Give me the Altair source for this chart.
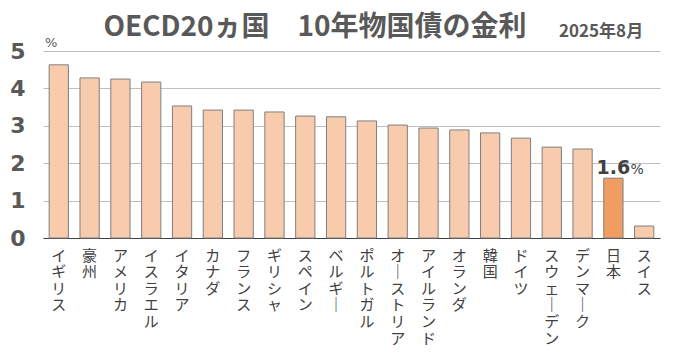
import altair as alt
import pandas as pd

countries = ["イギリス", "豪州", "アメリカ", "イスラエル", "イタリア", "カナダ", "フランス",
             "ギリシャ", "スペイン", "ベルギー", "ポルトガル", "オーストリア", "アイルランド",
             "オランダ", "韓国", "ドイツ", "スウェーデン", "デンマーク", "日本", "スイス"]
rates = [4.63, 4.28, 4.25, 4.17, 3.53, 3.42, 3.42, 3.37, 3.26, 3.24, 3.13, 3.02, 2.94,
         2.89, 2.81, 2.67, 2.43, 2.38, 1.60, 0.32]
highlight = "日本"
highlight_label = "1.6"
title_text = "OECD20ヵ国　10年物国債の金利"
date_text = "2025年8月"
y_ticks = [0, 1, 2, 3, 4, 5]

df = pd.DataFrame({"country": countries, "rate": rates})
df["hl"] = df["country"] == highlight

CJK = "Noto Sans CJK JP"
NUM = "DejaVu Sans"

x_scale = alt.Scale(domain=countries, paddingInner=0.375, paddingOuter=0.2)
x_enc = alt.X("country:N", sort=countries, scale=x_scale,
              axis=alt.Axis(title=None, labelAngle=0, ticks=False, domain=True,
                            domainColor="#404040", domainWidth=1.2,
                            labelFont=CJK, labelFontSize=15, labelColor="#404040",
                            labelPadding=10, labelBaseline="top", labelLineHeight=16.6,
                            labelOverlap=False,
                            labelExpr="split(join(split(datum.label, 'ー'), '｜'), '')"))
y_enc = alt.Y("rate:Q", scale=alt.Scale(domain=[0, 5], nice=False),
              axis=alt.Axis(title=None, values=y_ticks, tickCount=6, ticks=False, domain=False,
                            grid=True, gridColor="#bfbfbf", gridWidth=1, labelOverlap=False,
                            labelFont=NUM, labelFontSize=22, labelFontWeight="bold",
                            labelColor="#595959", labelPadding=18, format="d"))

bars = alt.Chart(df).mark_bar(stroke="#7f7f7f", strokeWidth=1).encode(
    x=x_enc, y=y_enc,
    color=alt.Color("hl:N", scale=alt.Scale(domain=[False, True], range=["#f8cbad", "#f19c62"]),
                    legend=None),
)

base_hl = alt.Chart(df).transform_filter(alt.datum.country == highlight)
lab_num = base_hl.mark_text(font=NUM, fontSize=19, fontWeight="bold", color="#404040",
                            baseline="alphabetic", align="center", dy=-4).encode(
    x=x_enc, y=y_enc, text=alt.value(highlight_label))
lab_pct = base_hl.mark_text(font=NUM, fontSize=14, color="#404040",
                            baseline="alphabetic", align="left", dx=17, dy=-4).encode(
    x=x_enc, y=y_enc, text=alt.value("%"))

single = alt.Data(values=[{"a": 1}])
unit = alt.Chart(single).mark_text(font=NUM, fontSize=13, color="#595959",
                                   align="left", baseline="alphabetic").encode(
    x=alt.value(2), y=alt.value(-4), text=alt.value("%"))
title = alt.Chart(single).mark_text(font=CJK, fontSize=28, fontWeight="bold", color="#595959",
                                    align="center", baseline="alphabetic").encode(
    x=alt.value(272), y=alt.value(-15), text=alt.value(title_text))
date = alt.Chart(single).mark_text(font=CJK, fontSize=17, fontWeight="bold", color="#595959",
                                   align="left", baseline="alphabetic").encode(
    x=alt.value(516), y=alt.value(-14), text=alt.value(date_text))

chart = alt.layer(bars, lab_num, lab_pct, unit, title, date).properties(
    width=617, height=187,
    autosize=alt.AutoSizeParams(type="none"),
    padding={"left": 35, "top": 43, "right": 24, "bottom": 120},
).configure_view(stroke=None)

chart.save("out.html", embed_options={"renderer": "svg", "actions": False})
